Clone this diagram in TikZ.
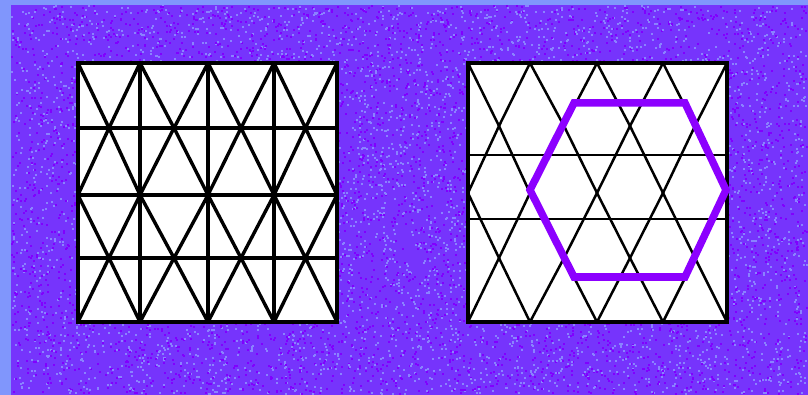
\documentclass[tikz,border=0pt]{standalone}
\definecolor{bgblue}{RGB}{128,150,252}
\definecolor{bgpurple}{RGB}{118,52,252}
\definecolor{bglight}{RGB}{138,130,255}
\definecolor{bgdark}{RGB}{128,0,255}
\definecolor{hexviolet}{RGB}{140,0,255}
\begin{document}
\begin{tikzpicture}[x=1pt,y=-1pt,
  thickline/.style={line width=3.4pt, line join=round, line cap=round},
  diagline/.style={line width=2.5pt, line join=round, line cap=round},
  thinline/.style={line width=1.3pt},
  hexline/.style={draw=hexviolet, line width=7.5pt, line join=miter}]
\useasboundingbox (0,0) rectangle (808,395);
\fill[bgblue] (0,0) rectangle (808,395);
\fill[bgpurple] (11,5) rectangle (808,395);
\pgfmathsetseed{7}
\foreach \i in {1,...,5000}{
  \pgfmathsetmacro{\px}{11+rnd*795}
  \pgfmathsetmacro{\py}{5+rnd*388}
  \fill[bglight] (\px,\py) rectangle ++(2,2);
  \pgfmathsetmacro{\qx}{11+rnd*795}
  \pgfmathsetmacro{\qy}{5+rnd*388}
  \fill[bgdark] (\qx,\qy) rectangle ++(2,2);
}
% ---------- left square ----------
\coordinate (L) at (78,63);
\begin{scope}[shift={(L)}]
  \fill[white] (0,0) rectangle (259,259);
  \begin{scope}
    \clip (0,0) rectangle (259,259);
    \foreach \a/\m/\b in {0/31/62, 62/96/130, 130/163/196, 196/227.5/259}{
      \draw[thickline] (\a,0) -- (\m,65) -- (\b,0);
      \draw[thickline] (\a,132) -- (\m,65) -- (\b,132);
      \draw[thickline] (\a,132) -- (\m,195) -- (\b,132);
      \draw[thickline] (\a,259) -- (\m,195) -- (\b,259);
    }
    \foreach \x in {62,130,196}{\draw[thickline] (\x,0) -- (\x,259);}
    \foreach \y in {65,132,195}{\draw[thickline] (0,\y) -- (259,\y);}
  \end{scope}
  \draw[line width=3.4pt] (0,0) rectangle (259,259);
\end{scope}
% ---------- right square ----------
\coordinate (R) at (468,63);
\begin{scope}[shift={(R)}]
  \fill[white] (0,0) rectangle (259,259);
  \begin{scope}
    \clip (0,0) rectangle (259,259);
    \foreach \a/\m/\b in {0/31/62, 62/96/129, 129/162/195, 195/227/259}{
      \draw[diagline] (\a,0) -- (\m,63) -- (\b,0);
      \draw[diagline] (\a,130) -- (\m,63) -- (\b,130);
      \draw[diagline] (\a,130) -- (\m,195) -- (\b,130);
      \draw[diagline] (\a,259) -- (\m,195) -- (\b,259);
    }
    \draw[thinline] (0,92) -- (259,92);
    \draw[thinline] (0,156) -- (259,156);
  \end{scope}
  \draw[line width=3.2pt] (0,0) rectangle (259,259);
\end{scope}
% ---------- hexagon ----------
\coordinate (H1) at (530,190);
\coordinate (H2) at (574,103);
\coordinate (H3) at (685,103);
\coordinate (H4) at (726,190);
\coordinate (H5) at (685,277);
\coordinate (H6) at (574,277);
\draw[hexline] (H1) -- (H2) -- (H3) -- (H4) -- (H5) -- (H6) -- cycle;
\end{tikzpicture}
\end{document}
